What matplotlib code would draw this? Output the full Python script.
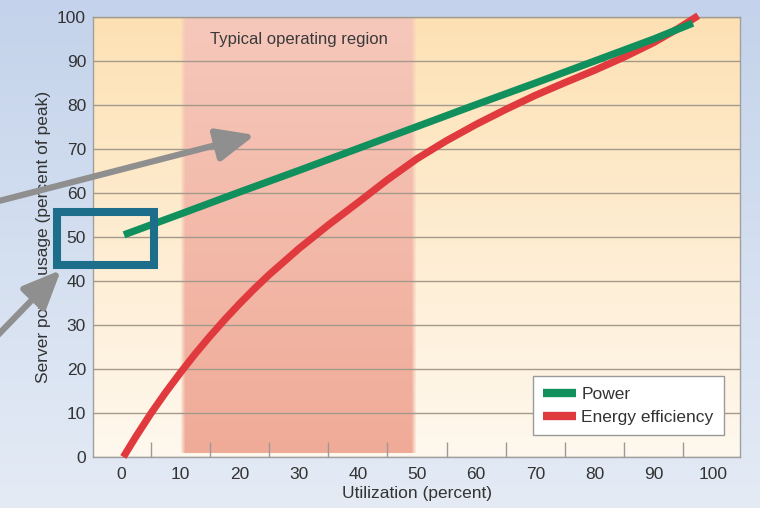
import numpy as np
import matplotlib
matplotlib.use("Agg")
import matplotlib.pyplot as plt
from matplotlib.patches import Rectangle
from matplotlib.colors import LinearSegmentedColormap

plt.rcParams['font.family'] = ['Liberation Sans', 'DejaVu Sans']

# Power draw (percent of peak) versus utilization
power_util = [0.5, 10, 20, 30, 40, 50, 60, 70, 80, 90, 96.6]
power_vals = [50.5, 55.2, 60.2, 65.1, 70.1, 75.1, 80.1, 85.0, 90.0, 95.0, 98.6]

# Energy efficiency versus utilization
eff_util = [0.4, 2.5, 5, 7.5, 10, 12.5, 15, 17.5, 20, 22.5, 25, 30, 35, 40,
            45, 50, 55, 60, 65, 70, 75, 80, 85, 90, 94, 97.5]
eff_vals = [0, 4.6, 9.8, 14.6, 19.1, 23.4, 27.4, 31.2, 34.8, 38.2, 41.4,
            47.3, 52.7, 57.8, 63.0, 67.8, 71.9, 75.6, 79.0, 82.2, 85.1,
            87.9, 90.9, 94.2, 97.3, 100.3]

region = (10, 50)
region_label = "Typical operating region"
x_ticks = list(range(0, 101, 10))
y_ticks = list(range(0, 101, 10))

W, H = 760, 508
fig = plt.figure(figsize=(W / 100, H / 100), dpi=100)

# figure backdrop: soft blue gradient
bg = fig.add_axes([0, 0, 1, 1], zorder=-5)
bg_cmap = LinearSegmentedColormap.from_list("bg", ["#c4d3eb", "#e4ebf5"])
bg.imshow(np.linspace(0, 1, 256).reshape(-1, 1), cmap=bg_cmap, aspect="auto",
          extent=[0, 1, 0, 1], origin="upper")
bg.set_axis_off()

ax = fig.add_axes([93 / W, 51 / H, 647 / W, 440 / H])
ax.set_xlim(-4.73, 104.56)
ax.set_ylim(0, 100)

# plot area: warm cream gradient
area_cmap = LinearSegmentedColormap.from_list("area", ["#fde1b4", "#fff8ee"])
ax.imshow(np.linspace(0, 1, 256).reshape(-1, 1), cmap=area_cmap, aspect="auto",
          extent=[-4.73, 104.56, 0, 100], origin="upper", zorder=0)

# operating region band with salmon gradient and soft side edges
ny, nx = 256, 200
top = np.array([0xf6, 0xc8, 0xbb]) / 255
bot = np.array([0xf0, 0xab, 0x98]) / 255
t = np.linspace(0, 1, ny).reshape(-1, 1, 1)
rgb = top * (1 - t) + bot * t
rgb = np.broadcast_to(rgb, (ny, nx, 3))
xs = np.linspace(0, 1, nx)
edge = np.clip(np.minimum(xs, 1 - xs) / 0.02, 0, 1)
alpha = np.broadcast_to(edge.reshape(1, -1, 1), (ny, nx, 1))
rgba = np.concatenate([rgb, alpha], axis=2)
ax.imshow(rgba, aspect="auto", extent=[region[0], region[1], 0.9, 100],
          origin="upper", zorder=1)
ax.text(sum(region) / 2, 94.8, region_label, ha="center", va="center",
        fontsize=12, color="#3a3a3a", zorder=3)

ax.set_yticks(y_ticks)
ax.set_xticks(x_ticks)
ax.set_xticks([v + 5 for v in x_ticks[:-1]], minor=True)
ax.grid(axis="y", color="#a39a8c", linewidth=1.0, zorder=2)
ax.set_axisbelow(False)
for gl in ax.get_ygridlines():
    gl.set_zorder(2)
ax.tick_params(axis="both", which="major", length=0, labelsize=12.5,
               labelcolor="#333333")
ax.tick_params(axis="y", pad=5)
ax.tick_params(axis="x", pad=7)
ax.tick_params(axis="x", which="minor", direction="in", length=11,
               width=1, color="#9a9a9a")
for s in ax.spines.values():
    s.set_color("#a0a0a0")
    s.set_linewidth(1)

ax.set_xlabel("Utilization (percent)", fontsize=12.5, color="#333333",
              labelpad=3)
ax.set_ylabel("Server power usage (percent of peak)", fontsize=12.5,
              color="#333333", labelpad=4)

ax.plot(power_util, power_vals, color="#11905e", linewidth=5.2,
        solid_capstyle="butt", zorder=5, label="Power", clip_on=False)
ax.plot(eff_util, eff_vals, color="#e03a3e", linewidth=5.2,
        solid_capstyle="butt", solid_joinstyle="round", zorder=4,
        label="Energy efficiency", clip_on=False)

handles, labels = ax.get_legend_handles_labels()
leg = ax.legend(handles, labels, loc="lower right",
                bbox_to_anchor=(0.975, 0.05), fontsize=12.5,
                frameon=True, fancybox=False, edgecolor="#9a9a9a",
                framealpha=1, handlelength=1.9, handletextpad=0.3,
                borderpad=0.6, labelspacing=0.45, borderaxespad=0)
leg.get_frame().set_linewidth(1)
leg.set_zorder(6)
for ln in leg.get_lines():
    ln.set_linewidth(6)
for txt in leg.get_texts():
    txt.set_color("#333333")

# overlay in pixel coordinates for the callout box and arrows
ov = fig.add_axes([0, 0, 1, 1], zorder=10)
ov.set_xlim(0, W)
ov.set_ylim(H, 0)
ov.set_axis_off()
ov.patch.set_alpha(0)
ov.add_patch(Rectangle((57, 212), 97, 53, fill=False, edgecolor="#1d6e8a",
                       linewidth=5.8, joinstyle="miter"))
arrow = dict(arrowstyle="-|>,head_length=2.3,head_width=1.0",
             color="#8f8f8f", linewidth=4.5, shrinkA=0, shrinkB=0)
ov.annotate("", xy=(255, 135), xytext=(-5, 202), arrowprops=arrow)
ov.annotate("", xy=(61, 270), xytext=(-5, 338), arrowprops=arrow)

fig.savefig("out.png", dpi=100)
